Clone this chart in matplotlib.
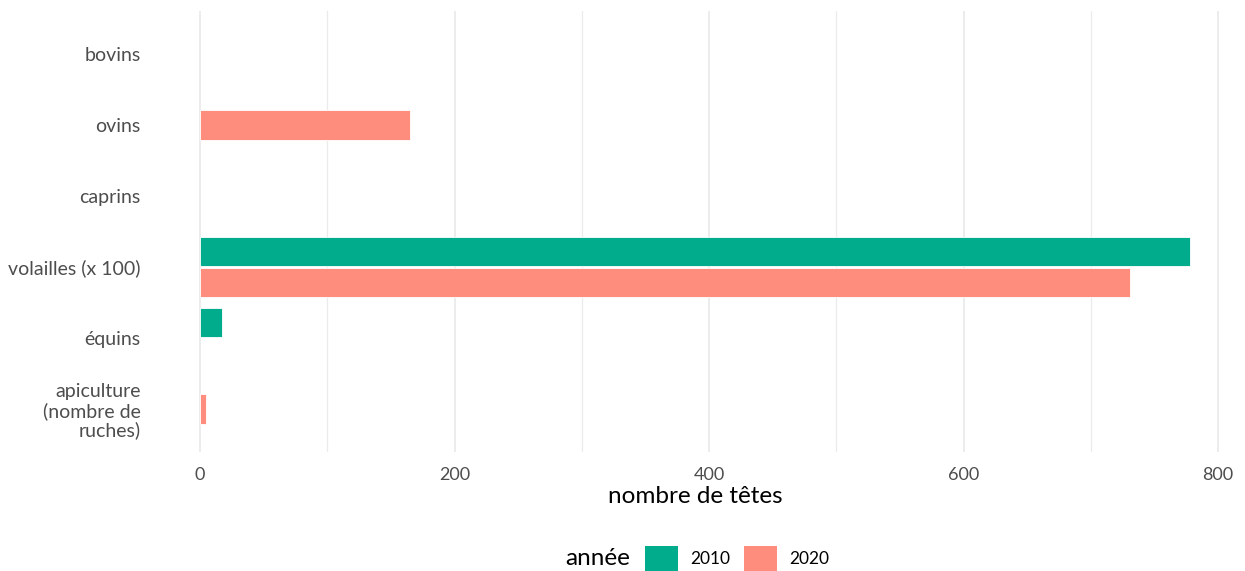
import numpy as np
import matplotlib.pyplot as plt
from matplotlib.patches import Patch
from matplotlib.ticker import MultipleLocator

plt.rcParams['font.family'] = ['Lato', 'DejaVu Sans']

# donnees (nombre de tetes), None = pas de valeur
categories = ['bovins', 'ovins', 'caprins', 'volailles (x 100)', 'équins',
              'apiculture\n(nombre de\nruches)']
val_2010 = [None, None, None, 778, 17, None]
val_2020 = [None, 165, None, 731, 0, 5]
annees = ['2010', '2020']
couleurs = ['#00AC8C', '#FF8D7E']

fig = plt.figure(figsize=(12.45, 5.71), dpi=100)
ax = fig.add_axes([0.1209, 0.2091, 0.8748, 0.771])

haut = 0.41
dec = 0.215
y = np.arange(len(categories))
for i in range(len(categories)):
    v1, v2 = val_2010[i], val_2020[i]
    if v1 is not None and v2 is not None:
        pos = [(v1, -dec, 0), (v2, dec, 1)]
    elif v1 is not None:
        pos = [(v1, 0, 0)]
    elif v2 is not None:
        pos = [(v2, 0, 1)]
    else:
        pos = []
    for v, d, k in pos:
        if v > 0:
            ax.barh(y[i] + d, v, height=haut, color=couleurs[k],
                    edgecolor='white', linewidth=0.6, zorder=3)

ax.set_yticks(y)
ax.set_yticklabels(categories, color='#4D4D4D', fontsize=14, linespacing=1.1)
ax.set_ylim(len(categories) - 1 + 0.6, -0.6)
ax.set_xlim(-38.9, 817)
ax.xaxis.set_major_locator(MultipleLocator(200))
ax.xaxis.set_minor_locator(MultipleLocator(100))
ax.grid(axis='x', which='major', color='#EBEBEB', linewidth=1.3, zorder=0)
ax.grid(axis='x', which='minor', color='#EBEBEB', linewidth=0.9, zorder=0)
ax.tick_params(axis='both', which='both', length=0, labelcolor='#4D4D4D')
ax.tick_params(axis='x', labelsize=13, pad=11)
ax.tick_params(axis='y', pad=7)
for s in ax.spines.values():
    s.set_visible(False)
ax.set_xlabel('nombre de têtes', fontsize=17.5, color='black', labelpad=2)

handles = [Patch(facecolor=c, edgecolor='none') for c in couleurs]
fig.legend(handles, annees, ncol=2, loc='center', frameon=False,
           bbox_to_anchor=(0.592, 0.022), fontsize=12.5,
           handlelength=1.9, handleheight=1.9, handletextpad=0.7,
           columnspacing=0.8)
fig.text(0.506, 0.022, 'année', fontsize=17.5, ha='right', va='center')

fig.savefig('out.png', dpi=100)
